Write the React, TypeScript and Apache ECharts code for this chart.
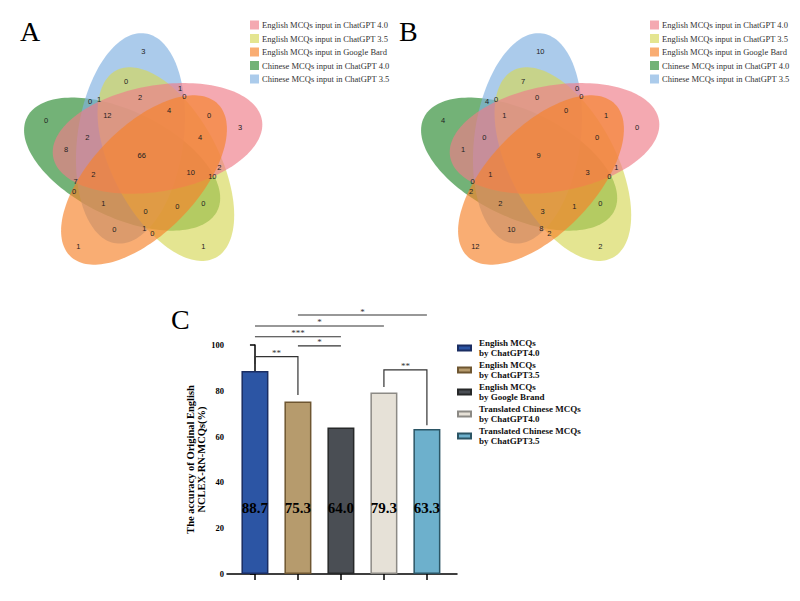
import React, { useEffect, useRef } from "react";
import * as echarts from "echarts";

// ---------------- data ----------------
const setNames = [
  "English MCQs input in ChatGPT 4.0",
  "English MCQs input in ChatGPT 3.5",
  "English MCQs input in Google Bard",
  "Chinese MCQs input in ChatGPT 4.0",
  "Chinese MCQs input in ChatGPT 3.5",
];

// region counts (same region order for both diagrams)
const vennACounts = [3, 0, 1, 0, 2, 0, 1, 0, 12, 4, 0, 3, 2, 4, 8, 66, 10, 2, 10, 2, 7, 0, 1, 0, 0, 0, 0, 1, 0, 1, 1];
const vennBCounts = [10, 7, 0, 0, 0, 4, 0, 4, 1, 0, 1, 0, 0, 0, 1, 9, 3, 1, 0, 1, 0, 2, 2, 1, 0, 3, 10, 8, 2, 12, 2];

const barCategories = [
  "English MCQs\nby ChatGPT4.0",
  "English MCQs\nby ChatGPT3.5",
  "English MCQs\nby Google Brand",
  "Translated Chinese MCQs\nby ChatGPT4.0",
  "Translated Chinese MCQs\nby ChatGPT3.5",
];
const barValues = [88.7, 75.3, 64.0, 79.3, 63.3];
const yTicks = [0, 20, 40, 60, 80, 100];

const sigPairs = [
  [0, 1],
  [3, 4],
  [1, 2],
  [0, 2],
  [0, 3],
  [1, 4],
];
const sigStars = ["**", "**", "*", "***", "*", "*"];

// ---------------- layout / style ----------------
const SET_BASE = ["#ef7c88", "#d6d858", "#f6832a", "#2a8a30", "#7fb0e0"];
const SET_ROT = [1, 2, 3, 4, 0];
const DRAW_ORDER = [3, 4, 1, 0, 2];
const VENN_C = [144, 157];
const VENN_R = 23;
const VENN_A = 106;
const VENN_B = 53;
const VENN_OPACITY = 0.66;

const REGION_POS = [
  [143.3, 51.7], [126, 81.7], [180, 88.3], [184.3, 96.7], [140, 97.7], [90, 101.7], [99, 99.3],
  [46, 120], [107.3, 115], [169, 110], [209, 115], [240, 127.3], [87.3, 137.3], [200, 137.3],
  [66, 149.3], [141.7, 155], [190.7, 172.3], [219.3, 167.3], [212.3, 176.7], [93.3, 174.3],
  [75.7, 181.7], [74, 191], [103.3, 203.3], [177.3, 206.7], [203.3, 203.3], [145.7, 211.7],
  [114.3, 229.3], [144.3, 228.3], [152.3, 233.3], [78.3, 246.7], [203.3, 246.7],
];

const BAR_FILL = ["#2c55a4", "#b69b6d", "#4a4e54", "#e6e1d7", "#6db0cc"];
const BAR_BORDER = ["#1a2d62", "#6e5631", "#262829", "#8c8a85", "#2b5565"];
const BAR_LABEL_Y = 29;
// [line, left leg end, right leg end]
const SIG_LEVELS = [
  [94.9, 91.7, 78.2],
  [89.1, 81.7, 65],
  [99.6, 99.6, 99.6],
  [103.6, 103.6, 103.6],
  [108.3, 108.3, 108.3],
  [113.1, 113.1, 113.1],
];

const SERIF = "Liberation Serif";
const SANS = "Liberation Sans";

function ellipseParams(i: number) {
  const k = SET_ROT[i];
  const tc = ((234 + 72 * k) * Math.PI) / 180;
  return [VENN_C[0] + VENN_R * Math.cos(tc), VENN_C[1] + VENN_R * Math.sin(tc), VENN_A, VENN_B, -82 + 72 * k];
}

function ellipseRender(params: any, api: any) {
  const cx = api.value(0);
  const cy = api.value(1);
  const a = api.value(2);
  const b = api.value(3);
  const phi = (api.value(4) * Math.PI) / 180;
  const pts: number[][] = [];
  const N = 160;
  for (let k = 0; k < N; k++) {
    const t = (2 * Math.PI * k) / N;
    const x = cx + a * Math.cos(t) * Math.cos(phi) - b * Math.sin(t) * Math.sin(phi);
    const y = cy + a * Math.cos(t) * Math.sin(phi) + b * Math.sin(t) * Math.cos(phi);
    pts.push(api.coord([x, y]));
  }
  return {
    type: "polygon",
    shape: { points: pts },
    style: { fill: api.visual("color"), opacity: VENN_OPACITY },
  };
}

function vennLabelRender(params: any, api: any) {
  const p = api.coord([api.value(0), api.value(1)]);
  return {
    type: "text",
    x: p[0],
    y: p[1],
    style: {
      text: String(api.value(2)),
      fill: "#222",
      fontSize: 7.5,
      fontFamily: SANS,
      align: "center",
      verticalAlign: "middle",
    },
  };
}

function buildOption() {
  const series: any[] = [];
  [0, 1].forEach((v) => {
    DRAW_ORDER.forEach((i) => {
      series.push({
        type: "custom",
        name: setNames[i],
        xAxisIndex: v,
        yAxisIndex: v,
        silent: true,
        itemStyle: { color: SET_BASE[i], opacity: VENN_OPACITY },
        data: [ellipseParams(i)],
        renderItem: ellipseRender,
      });
    });
    const counts = v === 0 ? vennACounts : vennBCounts;
    series.push({
      type: "custom",
      xAxisIndex: v,
      yAxisIndex: v,
      silent: true,
      z: 5,
      data: REGION_POS.map((p, j) => [p[0], p[1], counts[j]]),
      renderItem: vennLabelRender,
    });
  });

  barValues.forEach((val, i) => {
    series.push({
      type: "bar",
      name: barCategories[i],
      xAxisIndex: 2,
      yAxisIndex: 2,
      barWidth: 27,
      barGap: "-100%",
      data: [[i, val]],
      itemStyle: { color: BAR_FILL[i], borderColor: BAR_BORDER[i], borderWidth: 1.5 },
    });
  });

  series.push({
    type: "custom",
    xAxisIndex: 2,
    yAxisIndex: 2,
    silent: true,
    clip: false,
    z: 10,
    data: barValues.map((v, i) => [i, BAR_LABEL_Y, v]),
    renderItem: (params: any, api: any) => {
      const p = api.coord([api.value(0), api.value(1)]);
      const idx = params.dataIndex;
      return {
        type: "text",
        x: p[0],
        y: p[1],
        z2: 100,
        style: {
          text: barValues[idx].toFixed(1),
          fill: "#000",
          fontSize: 15,
          fontWeight: "bold",
          fontFamily: SERIF,
          align: "center",
          verticalAlign: "middle",
        },
      };
    },
  });

  series.push({
    type: "custom",
    xAxisIndex: 2,
    yAxisIndex: 2,
    silent: true,
    clip: false,
    z: 10,
    data: sigPairs.map((p, j) => [p[0], p[1], j]),
    renderItem: (params: any, api: any) => {
      const x1 = api.value(0);
      const x2 = api.value(1);
      const j = api.value(2);
      const lv = SIG_LEVELS[j];
      const pts = [
        api.coord([x1, lv[1]]),
        api.coord([x1, lv[0]]),
        api.coord([x2, lv[0]]),
        api.coord([x2, lv[2]]),
      ];
      const mid = api.coord([(x1 + x2) / 2, lv[0]]);
      return {
        type: "group",
        children: [
          {
            type: "polyline",
            shape: { points: pts },
            style: { stroke: "#333", lineWidth: 1.2, fill: "none" },
          },
          {
            type: "text",
            x: mid[0],
            y: mid[1] + 1,
            style: {
              text: sigStars[j],
              fill: "#333",
              fontSize: 9,
              fontFamily: SERIF,
              align: "center",
              verticalAlign: "bottom",
            },
          },
        ],
      };
    },
  });

  const vennLegend = (left: number) => ({
    orient: "vertical",
    left,
    top: 20,
    padding: 0,
    itemWidth: 9,
    itemHeight: 9,
    itemGap: 3.5,
    icon: "rect",
    selectedMode: false,
    data: setNames.map((n, i) => ({ name: n, itemStyle: { color: SET_BASE[i], opacity: VENN_OPACITY, borderWidth: 0 } })),
    textStyle: { fontFamily: SERIF, fontSize: 8.5, color: "#333", lineHeight: 10, padding: [0, 0, 0, -2] },
  });

  return {
    animation: false,
    textStyle: { fontFamily: SERIF },
    grid: [
      { left: 0, top: 0, width: 400, height: 300 },
      { left: 397, top: 0, width: 400, height: 300 },
      { left: 227, top: 345, width: 230, height: 229 },
    ],
    xAxis: [
      { type: "value", gridIndex: 0, min: 0, max: 400, show: false },
      { type: "value", gridIndex: 1, min: 0, max: 400, show: false },
      {
        type: "value",
        gridIndex: 2,
        min: -0.65,
        max: 4.7,
        axisLine: { show: true, onZero: false, lineStyle: { color: "#000", width: 1.5 } },
        axisTick: { show: true, customValues: [0, 1, 2, 3, 4], length: 6, lineStyle: { color: "#000", width: 1.5 } },
        axisLabel: { show: false },
        splitLine: { show: false },
      },
    ],
    yAxis: [
      { type: "value", gridIndex: 0, min: 0, max: 300, inverse: true, show: false },
      { type: "value", gridIndex: 1, min: 0, max: 300, inverse: true, show: false },
      {
        type: "value",
        gridIndex: 2,
        min: yTicks[0],
        max: yTicks[yTicks.length - 1],
        interval: 20,
        name: "The accuracy of Original English\nNCLEX-RN-MCQs(%)",
        nameLocation: "middle",
        nameGap: 20,
        nameTextStyle: { fontFamily: SERIF, fontSize: 10.5, fontWeight: "bold", color: "#000", lineHeight: 11 },
        axisLine: { show: true, lineStyle: { color: "#000", width: 1.5 } },
        axisTick: { show: true, length: 5, lineStyle: { color: "#000", width: 1.5 } },
        axisLabel: { fontFamily: SERIF, fontSize: 8.5, fontWeight: "bold", color: "#000", margin: 3 },
        splitLine: { show: false },
      },
    ],
    legend: [
      vennLegend(250),
      vennLegend(650),
      {
        orient: "vertical",
        left: 457,
        top: 338,
        padding: 0,
        itemWidth: 13,
        itemHeight: 5,
        itemGap: 2,
        icon: "rect",
        selectedMode: false,
        data: barCategories,
        textStyle: { fontFamily: SERIF, fontSize: 9, fontWeight: "bold", color: "#111", lineHeight: 10, padding: [0, 0, 0, 3] },
      },
    ],
    graphic: [
      { type: "text", left: 20, top: 17, style: { text: "A", fontSize: 28, fontFamily: SERIF, fill: "#000" } },
      { type: "text", left: 399, top: 17, style: { text: "B", fontSize: 28, fontFamily: SERIF, fill: "#000" } },
      { type: "text", left: 171, top: 305, style: { text: "C", fontSize: 28, fontFamily: SERIF, fill: "#000" } },
    ],
    series,
  };
}

export default function App() {
  const ref = useRef<HTMLDivElement>(null);
  useEffect(() => {
    if (!ref.current) return;
    const chart = echarts.init(ref.current, undefined, { renderer: "svg" });
    chart.setOption(buildOption() as any);
    return () => chart.dispose();
  }, []);
  return (
    <div
      ref={ref}
      style={{ position: "fixed", left: 0, top: 0, width: 800, height: 601, background: "#fff" }}
    />
  );
}
